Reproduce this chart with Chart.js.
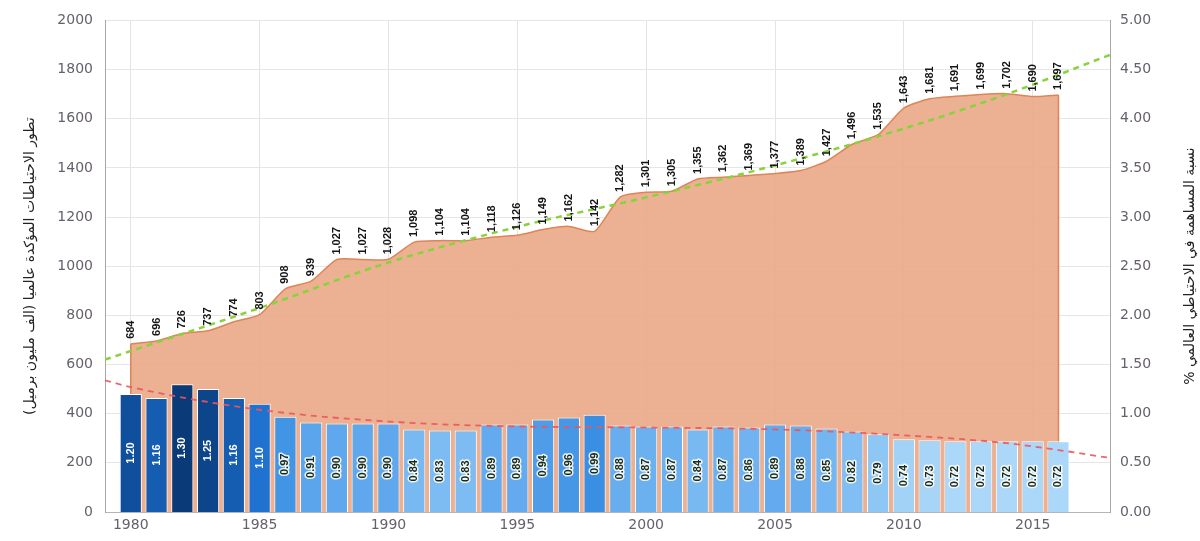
<!DOCTYPE html>
<html>
<head>
<meta charset="utf-8">
<script src="https://cdn.jsdelivr.net/npm/chart.js@4.4.1/dist/chart.umd.min.js"></script>
<style>
  html, body { margin: 0; padding: 0; background: #fff; }
  #wrap { width: 1200px; height: 541px; position: relative; }
</style>
</head>
<body>
<div id="wrap"><canvas id="myChart" width="1200" height="541"></canvas></div>
<script>
const years = [1980, 1981, 1982, 1983, 1984, 1985, 1986, 1987, 1988, 1989,
               1990, 1991, 1992, 1993, 1994, 1995, 1996, 1997, 1998, 1999,
               2000, 2001, 2002, 2003, 2004, 2005, 2006, 2007, 2008, 2009,
               2010, 2011, 2012, 2013, 2014, 2015, 2016];
// global proven reserves (thousand million barrels)
const reserves = [684, 696, 726, 737, 774, 803, 908, 939, 1027, 1027,
                  1028, 1098, 1104, 1104, 1118, 1126, 1149, 1162, 1142, 1282,
                  1301, 1305, 1355, 1362, 1369, 1377, 1389, 1427, 1496, 1535,
                  1643, 1681, 1691, 1699, 1702, 1690, 1697];
// share of world reserves %
const shares = [1.20, 1.16, 1.30, 1.25, 1.16, 1.10, 0.97, 0.91, 0.90, 0.90,
                0.90, 0.84, 0.83, 0.83, 0.89, 0.89, 0.94, 0.96, 0.99, 0.88,
                0.87, 0.87, 0.84, 0.87, 0.86, 0.89, 0.88, 0.85, 0.82, 0.79,
                0.74, 0.73, 0.72, 0.72, 0.72, 0.72, 0.72];
// trend lines
const reserveTrendYears = [1979, 1985, 1990, 1995, 2000, 2005, 2010, 2014, 2018];
const reserveTrend = [620, 830, 1015, 1160, 1280, 1410, 1560, 1700, 1860];
const shareTrendYears = [1979, 1980, 1985, 1990, 1995, 2000, 2005, 2010, 2014, 2016, 2018];
const shareTrend = [1.34, 1.27, 1.04, 0.92, 0.87, 0.86, 0.84, 0.78, 0.70, 0.63, 0.55];
const xTicks = [1980, 1985, 1990, 1995, 2000, 2005, 2010, 2015];
const leftTitle = 'تطور الاحتياطات المؤكدة عالميا (الف مليون برميل)';
const rightTitle = 'نسبة المساهمة في الاحتياطي العالمي %';

// colour of a bar from its value (darker = bigger share)
const colorStops = [
    [0.72, [171, 215, 248]],
    [0.83, [125, 188, 242]],
    [0.90, [95, 168, 237]],
    [0.99, [58, 143, 226]],
    [1.10, [31, 114, 208]],
    [1.20, [15, 79, 156]],
    [1.30, [11, 58, 120]]
];
function barColor(v) {
    if (v <= colorStops[0][0]) return 'rgb(' + colorStops[0][1].join(',') + ')';
    for (let i = 1; i < colorStops.length; i++) {
        if (v <= colorStops[i][0]) {
            const a = colorStops[i - 1], b = colorStops[i];
            const t = (v - a[0]) / (b[0] - a[0]);
            const c = a[1].map((x, k) => Math.round(x + (b[1][k] - x) * t));
            return 'rgb(' + c.join(',') + ')';
        }
    }
    return 'rgb(' + colorStops[colorStops.length - 1][1].join(',') + ')';
}

const tickFont = { family: 'DejaVu Sans', size: 14 };
const tickColor = '#66606c';

// value labels, area edges and axis titles
const labelsPlugin = {
    id: 'labels',
    afterDatasetDraw(chart, args) {
        if (args.index !== 0) return;
        const pts = args.meta.data;
        const base = chart.scales.y.getPixelForValue(0);
        const ctx = chart.ctx;
        ctx.save();
        ctx.strokeStyle = '#dd8558';
        ctx.lineWidth = 1.5;
        ctx.beginPath();
        ctx.moveTo(pts[0].x, pts[0].y);
        ctx.lineTo(pts[0].x, base);
        ctx.moveTo(pts[pts.length - 1].x, pts[pts.length - 1].y);
        ctx.lineTo(pts[pts.length - 1].x, base);
        ctx.stroke();
        ctx.restore();
    },
    afterDatasetsDraw(chart) {
        const ctx = chart.ctx;
        ctx.save();
        // area labels
        const areaPts = chart.getDatasetMeta(0).data;
        ctx.font = 'bold 11px "Liberation Sans Narrow", "Liberation Sans", Arial';
        ctx.fillStyle = '#141414';
        ctx.textAlign = 'left';
        ctx.textBaseline = 'middle';
        areaPts.forEach((p, i) => {
            ctx.save();
            ctx.translate(p.x, p.y - 5);
            ctx.rotate(-Math.PI / 2);
            ctx.fillText(reserves[i].toLocaleString('en-US'), 0, 0);
            ctx.restore();
        });
        // bar labels
        const bars = chart.getDatasetMeta(1).data;
        ctx.textAlign = 'center';
        bars.forEach((b, i) => {
            const v = shares[i];
            ctx.save();
            ctx.translate(b.x, (b.y + b.base) / 2);
            ctx.rotate(-Math.PI / 2);
            const txt = v.toFixed(2);
            if (v >= 1.1) {
                ctx.fillStyle = '#ffffff';
                ctx.fillText(txt, 0, 0);
            } else {
                ctx.strokeStyle = 'rgba(255,255,255,0.85)';
                ctx.lineWidth = 3;
                ctx.lineJoin = 'round';
                ctx.strokeText(txt, 0, 0);
                ctx.fillStyle = '#1b2a12';
                ctx.fillText(txt, 0, 0);
            }
            ctx.restore();
        });
        ctx.restore();
    },
    afterDraw(chart) {
        const ctx = chart.ctx;
        const area = chart.chartArea;
        const midY = (area.top + area.bottom) / 2;
        ctx.save();
        ctx.font = '14px "DejaVu Sans", "Noto Sans", sans-serif';
        ctx.fillStyle = '#222';
        ctx.textAlign = 'center';
        ctx.textBaseline = 'middle';
        ctx.direction = 'rtl';
        ctx.translate(30, midY);
        ctx.rotate(-Math.PI / 2);
        ctx.fillText(leftTitle, 0, 0);
        ctx.restore();
        ctx.save();
        ctx.font = '14px "DejaVu Sans", "Noto Sans", sans-serif';
        ctx.fillStyle = '#222';
        ctx.textAlign = 'center';
        ctx.textBaseline = 'middle';
        ctx.direction = 'rtl';
        ctx.translate(1190, midY);
        ctx.rotate(-Math.PI / 2);
        ctx.fillText(rightTitle, 0, 0);
        ctx.restore();
    }
};

const ctx = document.getElementById('myChart').getContext('2d');
const myChart = new Chart(ctx, {
    data: {
        datasets: [
            {
                type: 'line',
                label: 'reserves',
                data: years.map((y, i) => ({ x: y, y: reserves[i] })),
                yAxisID: 'y',
                fill: 'origin',
                backgroundColor: 'rgba(234, 168, 134, 0.9)',
                borderColor: '#dd8558',
                borderWidth: 1.5,
                pointRadius: 0,
                tension: 0.2,
                order: 5
            },
            {
                type: 'bar',
                label: 'share',
                data: years.map((y, i) => ({ x: y, y: shares[i] })),
                yAxisID: 'y2',
                backgroundColor: shares.map(barColor),
                borderColor: '#ffffff',
                borderWidth: 1,
                categoryPercentage: 1,
                barPercentage: 0.86,
                order: 3
            },
            {
                type: 'line',
                label: 'reserve trend',
                data: reserveTrendYears.map((y, i) => ({ x: y, y: reserveTrend[i] })),
                yAxisID: 'y',
                borderColor: '#86d43a',
                borderWidth: 2.5,
                borderDash: [6, 5],
                pointRadius: 0,
                fill: false,
                cubicInterpolationMode: 'monotone',
                order: 1
            },
            {
                type: 'line',
                label: 'share trend',
                data: shareTrendYears.map((y, i) => ({ x: y, y: shareTrend[i] })),
                yAxisID: 'y2',
                borderColor: 'rgba(238, 84, 92, 0.9)',
                borderWidth: 1.8,
                borderDash: [6, 5],
                pointRadius: 0,
                fill: false,
                cubicInterpolationMode: 'monotone',
                order: 1
            }
        ]
    },
    options: {
        responsive: false,
        animation: false,
        events: [],
        layout: { padding: { top: 12, right: 0, left: 0, bottom: 0 } },
        plugins: {
            legend: { display: false },
            tooltip: { enabled: false }
        },
        scales: {
            x: {
                type: 'linear',
                min: 1979,
                max: 2018,
                offset: false,
                afterBuildTicks: scale => { scale.ticks = xTicks.map(v => ({ value: v })); },
                afterFit: scale => { scale.height = 29; },
                ticks: {
                    font: tickFont,
                    color: tickColor,
                    padding: 5,
                    maxRotation: 0,
                    callback: v => String(v)
                },
                grid: { color: '#e4e4e4', drawTicks: false, offset: false },
                border: { color: '#b5b5b5' }
            },
            y: {
                position: 'left',
                min: 0,
                max: 2000,
                afterFit: scale => { scale.width = 105; },
                ticks: { stepSize: 200, font: tickFont, color: tickColor, padding: 12, callback: v => String(v) },
                grid: { color: '#e6e6e6', drawTicks: false },
                border: { color: '#a8a8a8' }
            },
            y2: {
                position: 'right',
                min: 0,
                max: 5,
                afterFit: scale => { scale.width = 90; },
                ticks: {
                    stepSize: 0.5,
                    font: tickFont,
                    color: tickColor,
                    padding: 10,
                    callback: v => Number(v).toFixed(2)
                },
                grid: { display: false, drawTicks: false },
                border: { color: '#a8a8a8' }
            }
        }
    },
    plugins: [labelsPlugin]
});
</script>
</body>
</html>
